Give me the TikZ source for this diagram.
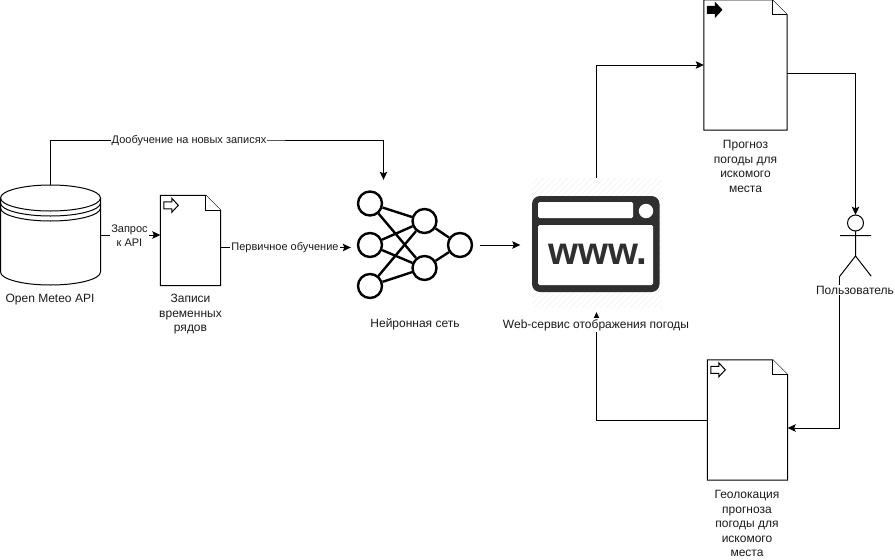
\documentclass[tikz,border=0pt]{standalone}
\usepackage{fontspec}
\setmainfont{Liberation Sans}
\usetikzlibrary{arrows.meta,calc}
\definecolor{txt}{HTML}{1A1A1A}
\definecolor{icon}{HTML}{2F2F2F}
\definecolor{hatch}{HTML}{F5F5F5}
\tikzset{
  conn/.style={draw=black,line width=1pt,-{Stealth[length=8pt,width=7.5pt,inset=1.5pt]}},
  lab/.style={font=\fontsize{12}{14.6}\selectfont,align=center,text=txt,inner sep=0pt},
  edgelab/.style={font=\fontsize{11}{14}\selectfont,align=center,text=txt,fill=white,inner sep=1pt},
  docbody/.style={draw=black,line width=1pt,fill=white,line join=miter},
  neuron/.style={circle,draw=black,line width=2.4pt,fill=white,minimum size=24pt,inner sep=0pt},
  synapse/.style={line width=2.4pt,black}
}
\newcommand{\docshape}[1]{%
  \draw[docbody] (#1.north west) -- ($(#1.north east)+(-15,0)$) -- ($(#1.north east)+(0,15)$) -- (#1.south east) -- (#1.south west) -- cycle;
  \draw[docbody] ($(#1.north east)+(-15,0)$) -- ($(#1.north east)+(-15,15)$) -- ($(#1.north east)+(0,15)$);
}
\newcommand{\docarrow}[2]{%
  \draw[line width=1pt,fill=#2] ($(#1.north west)+(3.5,6.5)$) -- ++(8,0) -- ++(0,-3.5) -- ++(6.5,7) -- ++(-6.5,7) -- ++(0,-3.5) -- ++(-8,0) -- cycle;
}
\begin{document}
\begin{tikzpicture}[x=1pt,y=-1pt]
\useasboundingbox (0,0) rectangle (895,560);
% placeholders
\node[minimum width=100pt,minimum height=100pt,inner sep=0pt] (cyl) at (50.5,235) {};
\node[minimum width=60pt,minimum height=90pt,inner sep=0pt] (d1) at (190.5,240.5) {};
\node[minimum width=129pt,minimum height=130pt,inner sep=0pt] (nn) at (415.5,245) {};
\node[minimum width=152pt,minimum height=134pt,inner sep=0pt] (www) at (596.5,245) {};
\node[minimum width=83pt,minimum height=130pt,inner sep=0pt] (d2) at (745.5,65) {};
\node[minimum width=80pt,minimum height=120pt,inner sep=0pt] (d3) at (747.5,420) {};
\node[minimum width=31pt,minimum height=61pt,inner sep=0pt] (act) at (855.5,245.5) {};

% www icon
\begin{scope}
\clip (532,178) rectangle (662,308);
\foreach \k in {0,6,...,270}{\draw[hatch,line width=.8pt] (532+\k-130,308) -- (532+\k,178);}
\end{scope}
\fill[icon,rounded corners=8pt] (532,196) rectangle (659.5,292);
\fill[white,rounded corners=1.5pt] (538,202) rectangle (633,218);
\fill[white] (646,211) circle (7.2);
\fill[white,rounded corners=1.5pt] (538,225) rectangle (653,285);
\node[inner sep=0pt,text=icon,font=\fontsize{38.5}{38.5}\bfseries\selectfont,anchor=base] (wwwtext) at (598,264.5) {www.};

% cylinder
\draw[docbody] (0.5,198) arc[start angle=180,end angle=360,x radius=50,y radius=13] -- (100.5,272) arc[start angle=0,end angle=180,x radius=50,y radius=13] -- cycle;
\foreach \o in {0,5,10}{\draw[line width=1pt] (0.5,198+\o) arc[start angle=180,end angle=0,x radius=50,y radius=13];}

% documents
\docshape{d1}\docarrow{d1}{white}
\docshape{d2}\docarrow{d2}{black}
\docshape{d3}\docarrow{d3}{white}

% neural net
\node[neuron] (n1) at (370,203.5) {};
\node[neuron] (n2) at (370,245) {};
\node[neuron] (n3) at (370,286) {};
\node[neuron] (n4) at (424.5,221) {};
\node[neuron] (n5) at (424.5,268) {};
\node[neuron] (n6) at (460,245) {};
\foreach \a/\b in {n1/n4,n1/n5,n2/n4,n2/n5,n3/n4,n3/n5,n4/n6,n5/n6}{\draw[synapse] (\a) -- (\b);}

% actor
\draw[line width=1pt] (855.5,223) circle (8);
\draw[line width=1pt] (855.5,231) -- (855.5,256) (840,235.5) -- (871,235.5) (act.south west) -- (855.5,256) -- (act.south east);

% connectors
\draw[conn] (cyl.east) -- (d1.west |- cyl.east);
\draw[conn] ([yshift=-7pt]d1.east) -- ([yshift=-2.5pt]nn.west);
\draw[conn] (cyl.north) |- (189,140) -| ([xshift=-32pt]nn.north);
\draw[conn] (nn.east) -- (www.west);
\draw[conn] (www.north) |- (d2.west);
\draw[conn] ([yshift=-8pt]d2.east) -| (act.north);
\draw[conn] (act.south west) |- ([yshift=-8pt]d3.east);
\draw[conn] (d3.west) -| (www.south);

% edge labels
\node[edgelab] (l1) at (129.5,235.5) {Запрос\\к API};
\node[edgelab] (l2) at (285,247.5) {Первичное обучение};
\node[edgelab] (l3) at (189,141) {Дообучение на новых записях};

% labels
\node[lab] (t1) at (50,299.5) {Open Meteo API};
\node[lab,anchor=north] (t2) at (190.5,294) {Записи\\временных\\рядов};
\node[lab] (t3) at (415,324.5) {Нейронная сеть};
\node[lab,fill=white,inner xsep=1pt,inner ysep=1pt] (t4) at (596,325) {Web-сервис отображения погоды};
\node[lab,anchor=north] (t5) at (745.5,140) {Прогноз\\погоды для\\искомого\\места};
\node[lab,fill=white,inner ysep=1pt] (t6) at (855,290) {Пользователь};
\node[lab,anchor=north] (t7) at (747,490) {Геолокация\\прогноза\\погоды для\\искомого\\места};
\end{tikzpicture}
\end{document}
